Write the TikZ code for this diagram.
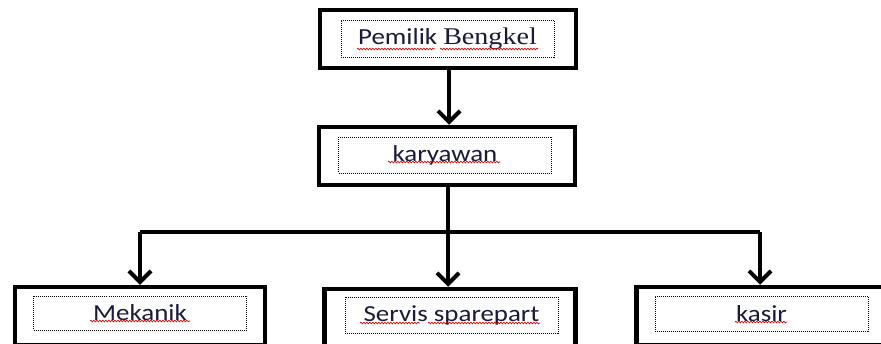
\documentclass[tikz,border=0pt]{standalone}
\usepackage{fontspec}
\setmainfont{Carlito}
\newfontfamily\serifb{Liberation Serif}
\usetikzlibrary{arrows.meta,decorations.pathmorphing}
\definecolor{txt}{HTML}{1A1A3A}
\newcommand{\wtxt}[1]{\scalebox{1.17}[1]{#1}}
\tikzset{
  x=1pt, y=-1pt,
  outerbox/.style={draw=black, line width=4.5pt, rectangle, inner sep=0pt, minimum height=58pt, fill=white},
  innerbox/.style={draw=black, densely dotted, line width=1pt, rectangle, inner sep=0pt, minimum width=213pt, text=txt, font=\fontsize{23}{25}\selectfont},
  conn/.style={line width=4pt, line join=round, -{Straight Barb[length=11pt,width=22pt,line width=4pt]}},
  trunk/.style={line width=4pt, line join=round},
  squig/.style={draw=red!85!black, line width=0.7pt, decorate, decoration={snake, amplitude=0.8pt, segment length=3pt}}
}
\begin{document}
\begin{tikzpicture}
\clip (0,0) rectangle (881,343);
\fill[white] (0,0) rectangle (881,343);

% boxes
\node[outerbox, minimum width=256pt] (p) at (448,39) {};
\node[innerbox, minimum height=37pt] (pi) at (447.5,38.5) {\wtxt{Pemilik {\serifb\fontsize{24}{24}\selectfont Bengkel}}};

\node[outerbox, minimum width=256pt] (k) at (447,156) {};
\node[innerbox, minimum height=36pt] (ki) at (445,155) {\wtxt{karyawan}};

\node[outerbox, minimum width=250pt] (m) at (140,316) {};
\node[innerbox, minimum height=34pt] (mi) at (140,313) {\wtxt{Mekanik}};

\node[outerbox, minimum width=251pt] (s) at (450,318) {};
\node[innerbox, minimum height=36pt] (si) at (451.5,315) {\wtxt{Servis sparepart}};

\node[outerbox, minimum width=251pt] (c) at (762,316) {};
\node[innerbox, minimum height=35pt] (ci) at (761.5,313.5) {\wtxt{kasir}};

% spell-check underlines
\draw[squig] (357,49) -- (435,49);
\draw[squig] (440,49) -- (538,49);
\draw[squig] (388,162) -- (500,162);
\draw[squig] (90,321) -- (190,321);
\draw[squig] (360,323) -- (420,323);
\draw[squig] (428,323) -- (540,323);
\draw[squig] (735,322) -- (787,322);

% connectors
\coordinate (j) at (448,232);
\coordinate (jl) at (140,232);
\coordinate (jr) at (760,232);
\draw[conn] (p.south -| 449,0) -- (k.north -| 449,0);
\draw[trunk] (k.south -| j) -- (j);
\draw[trunk] (jl) -- (jr);
\draw[conn] (jl) -- (m.north -| jl);
\draw[conn] (j) -- (s.north -| j);
\draw[conn] (jr) -- (c.north -| jr);
\end{tikzpicture}
\end{document}
